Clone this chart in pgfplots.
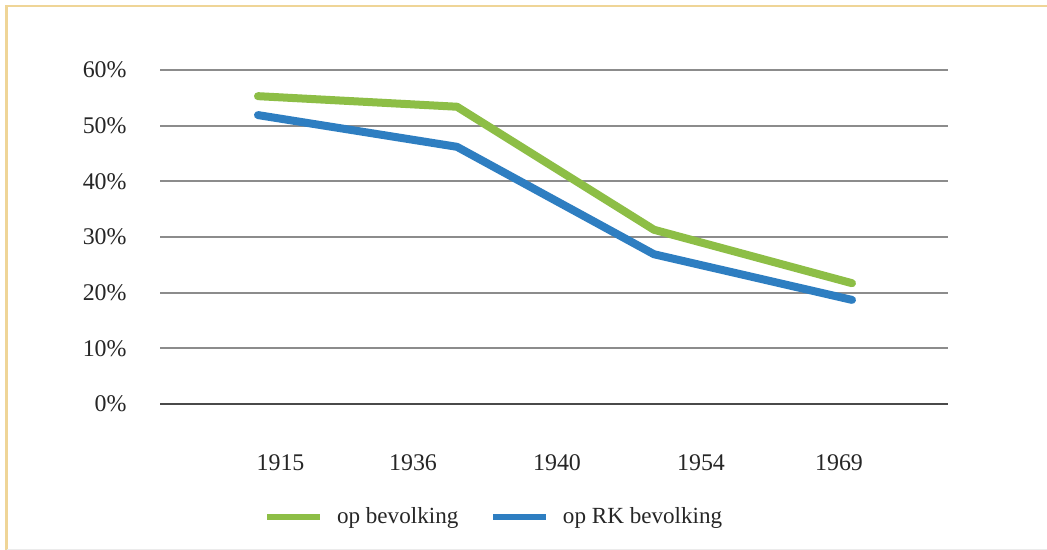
\documentclass[border=0pt]{standalone}
\usepackage{pgfplots}
\pgfplotsset{compat=1.18}
\usepackage{fontspec}
\setmainfont{Liberation Serif}
\definecolor{cgreen}{HTML}{8DBE46}
\definecolor{cblue}{HTML}{2E7EC1}
\definecolor{cgrid}{HTML}{8C8C8C}
\definecolor{caxis}{HTML}{4A4A4A}
\definecolor{cframe}{HTML}{EFD597}
\begin{document}
\begin{tikzpicture}
\path[use as bounding box] (0,0) rectangle (523.5bp,275bp);
\fill[white] (0,0) rectangle (523.5bp,275bp);
\draw[cframe, line width=1.3bp] (3.3bp,0) -- (3.3bp,272bp) -- (523.5bp,272bp);
\draw[black!8, line width=0.5bp] (3.3bp,0.3bp) -- (523.5bp,0.3bp);
\begin{axis}[
  at={(80bp,73bp)}, anchor=south west,
  scale only axis, width=394bp, height=167bp,
  xmin=0, xmax=788, ymin=0, ymax=60,
  axis line style={draw=none},
  major tick length=0pt,
  xtick={120.5,253,397,541,679},
  xticklabels={1915,1936,1940,1954,1969},
  ytick={10,20,...,60},
  extra y ticks={0},
  extra y tick style={grid style={caxis, line width=1.3bp}},
  ymajorgrids,
  grid style={cgrid, line width=1bp},
  /pgf/number format/assume math mode=true,
  yticklabel={\pgfmathprintnumber{\tick}\%},
  yticklabel style={anchor=east, inner sep=0pt, xshift=-16.5bp},
  xticklabel style={anchor=north, inner sep=0pt, yshift=-25bp},
  tick label style={font=\fontsize{12}{14}\selectfont, text=black!85},
  clip=false,
  legend columns=2,
  legend style={draw=none, fill=none, at={(0.423,-0.338)}, anchor=center,
    font=\fontsize{11.6}{14}\selectfont, text=black!85,
    nodes={inner sep=0pt},
    /tikz/every odd column/.append style={column sep=7bp},
    /tikz/every even column/.append style={column sep=16bp}},
  legend image code/.code={\draw[#1, line width=2.8bp, line cap=butt] (0bp,0bp) -- (26.5bp,0bp);},
]
\addplot[cgreen, line width=4bp, line cap=round, line join=round] coordinates {
  (98,55.3) (297,53.4) (494,31.3) (692,21.7)};
\addlegendentry{op bevolking}
\addplot[cblue, line width=4bp, line cap=round, line join=round] coordinates {
  (98,51.9) (297,46.2) (494,26.9) (692,18.7)};
\addlegendentry{op RK bevolking}
\end{axis}
\end{tikzpicture}
\end{document}
